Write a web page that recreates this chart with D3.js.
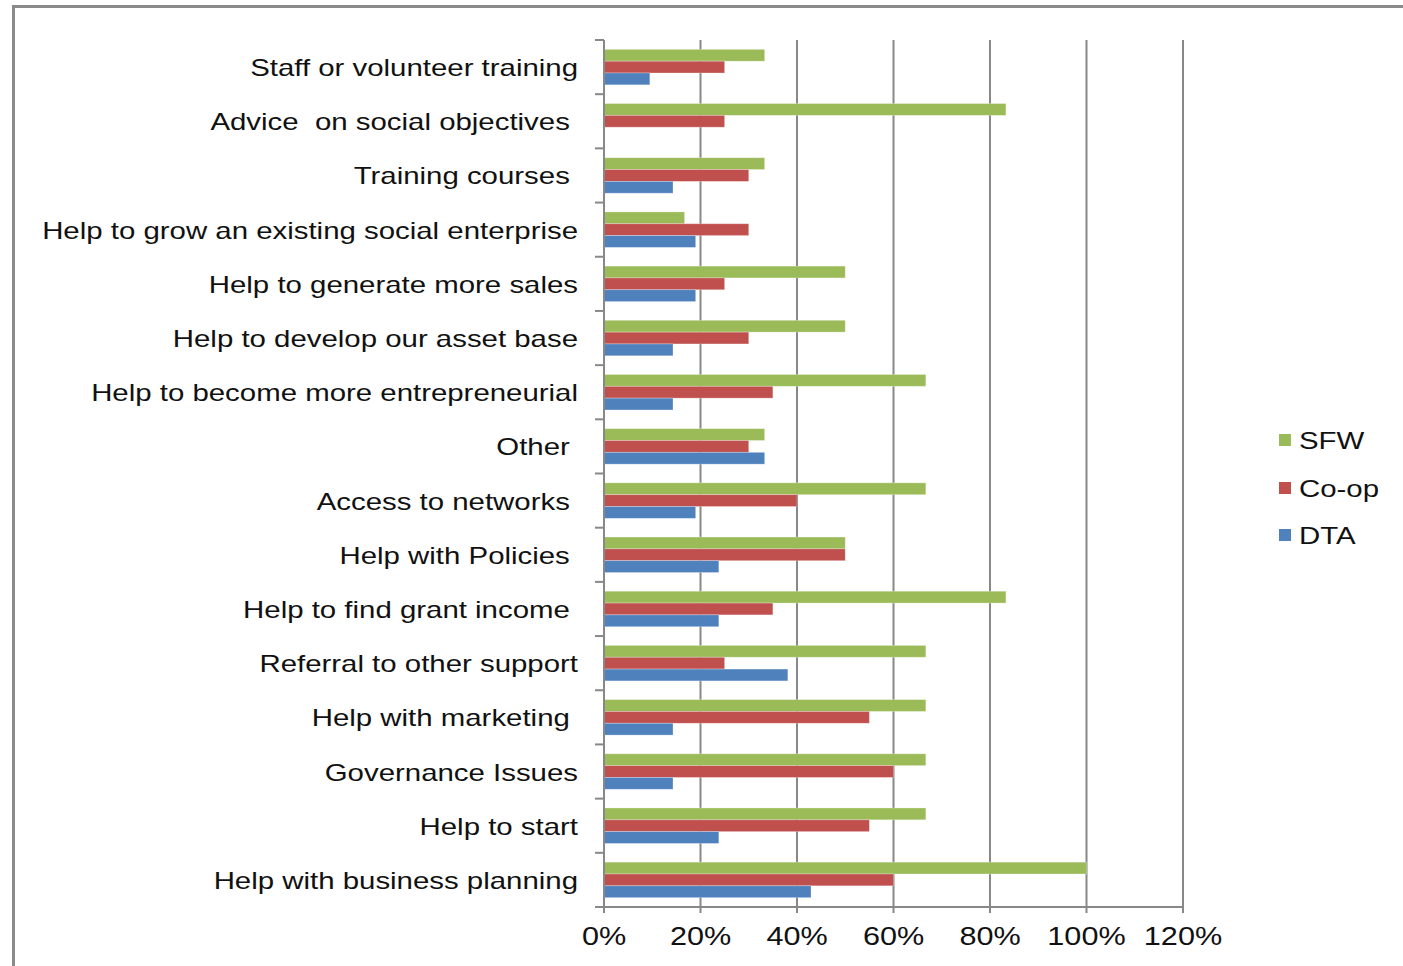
<!DOCTYPE html>
<html>
<head>
<meta charset="utf-8">
<script src="https://cdn.jsdelivr.net/npm/d3@7"></script>
<style>
  html, body { margin: 0; padding: 0; background: #fff; }
  svg { display: block; }
  text { font-family: "Liberation Sans", Arial, sans-serif; fill: #111; white-space: pre; }
</style>
</head>
<body>
<svg id="chart" width="1403" height="966"></svg>
<script>
const categories = [
  "Staff or volunteer training",
  "Advice  on social objectives ",
  "Training courses ",
  "Help to grow an existing social enterprise",
  "Help to generate more sales",
  "Help to develop our asset base",
  "Help to become more entrepreneurial",
  "Other ",
  "Access to networks ",
  "Help with Policies ",
  "Help to find grant income ",
  "Referral to other support",
  "Help with marketing ",
  "Governance Issues",
  "Help to start",
  "Help with business planning"
];
const seriesNames = ["SFW", "Co-op", "DTA"];
const sfw  = [33.3, 83.3, 33.3, 16.7, 50, 50, 66.7, 33.3, 66.7, 50, 83.3, 66.7, 66.7, 66.7, 66.7, 100];
const coop = [25, 25, 30, 30, 25, 30, 35, 30, 40, 50, 35, 25, 55, 60, 55, 60];
const dta  = [9.5, 0, 14.3, 19, 19, 14.3, 14.3, 33.3, 19, 23.8, 23.8, 38.1, 14.3, 14.3, 23.8, 42.9];
const xTicks = [0, 20, 40, 60, 80, 100, 120];
const colors = ["#9BBB59", "#C0504D", "#4F81BD"];

const seriesValues = [sfw, coop, dta];
const svg = d3.select("#chart");
const SX = 1.225; // horizontal stretch of text

// frame
svg.append("rect").attr("x", 13.5).attr("y", 6.5).attr("width", 1500).attr("height", 1100)
  .attr("fill", "none").attr("stroke", "#8a8a8a").attr("stroke-width", 3);

const pLeft = 604, pRight = 1183, pTop = 40, pBottom = 907;
const x = d3.scaleLinear().domain([0, 120]).range([pLeft, pRight]);
const y = d3.scaleBand().domain(d3.range(categories.length)).range([pTop, pBottom])
  .paddingInner(0.345).paddingOuter(0.1725);
const ys = d3.scaleBand().domain(d3.range(3)).range([0, y.bandwidth()]);
const step = y.step();

const axisColor = "#888888";

// gridlines
svg.append("g").selectAll("line").data(xTicks.slice(1)).join("line")
  .attr("x1", d => x(d)).attr("x2", d => x(d))
  .attr("y1", pTop).attr("y2", pBottom)
  .attr("stroke", axisColor).attr("stroke-width", 2);

// bars
const rows = svg.append("g").selectAll("g").data(categories).join("g")
  .attr("transform", (d, i) => `translate(0,${y(i)})`);
rows.selectAll("rect").data((d, i) => seriesValues.map((s, k) => ({k, v: s[i]})))
  .join("rect")
  .attr("x", x(0))
  .attr("y", d => ys(d.k))
  .attr("height", ys.bandwidth())
  .attr("width", d => x(d.v) - x(0))
  .attr("fill", d => colors[d.k])
  .attr("stroke", "rgba(255,255,255,0.35)")
  .attr("stroke-width", 0.8)
  .style("display", d => d.v > 0 ? null : "none");

// y axis line and ticks
svg.append("line").attr("x1", pLeft).attr("x2", pLeft).attr("y1", pTop).attr("y2", pBottom + 6)
  .attr("stroke", axisColor).attr("stroke-width", 2);
svg.append("g").selectAll("line").data(d3.range(categories.length + 1)).join("line")
  .attr("x1", pLeft - 9).attr("x2", pLeft)
  .attr("y1", i => pTop + i * step).attr("y2", i => pTop + i * step)
  .attr("stroke", axisColor).attr("stroke-width", 2);

// x axis line and ticks
svg.append("line").attr("x1", pLeft - 9).attr("x2", pRight).attr("y1", pBottom).attr("y2", pBottom)
  .attr("stroke", axisColor).attr("stroke-width", 2);
svg.append("g").selectAll("line").data(xTicks).join("line")
  .attr("x1", d => x(d)).attr("x2", d => x(d))
  .attr("y1", pBottom).attr("y2", pBottom + 6)
  .attr("stroke", axisColor).attr("stroke-width", 2);

// x tick labels
svg.append("g").selectAll("text").data(xTicks).join("text")
  .attr("transform", d => `translate(${x(d)},945) scale(${SX},1)`)
  .attr("text-anchor", "middle")
  .style("font-size", "25px")
  .text(d => d + "%");

// category labels
svg.append("g").selectAll("text").data(categories).join("text")
  .attr("transform", (d, i) => `translate(578,${y(i) + y.bandwidth() / 2 + 9}) scale(${SX},1)`)
  .attr("text-anchor", "end")
  .style("font-size", "24px")
  .text(d => d);

// legend
const legendY = [440, 488, 535];
const lg = svg.append("g").selectAll("g").data(seriesNames).join("g")
  .attr("transform", (d, i) => `translate(1279,${legendY[i]})`);
lg.append("rect").attr("x", 0).attr("y", -6).attr("width", 12).attr("height", 12)
  .attr("fill", (d, i) => colors[i]);
lg.append("text")
  .attr("transform", `translate(20,8.5) scale(${SX},1)`)
  .style("font-size", "24px")
  .text(d => d);
</script>
</body>
</html>
